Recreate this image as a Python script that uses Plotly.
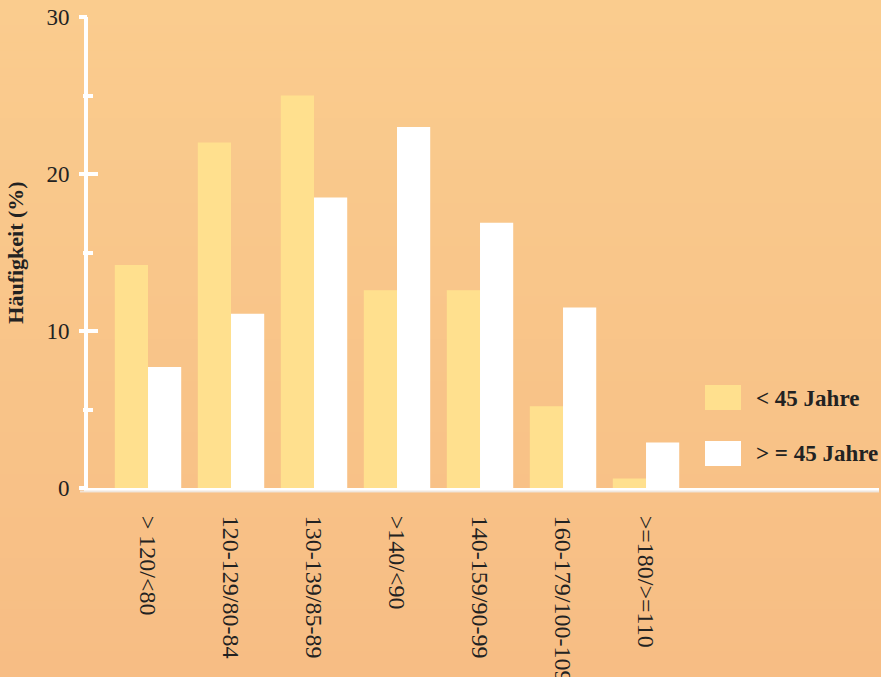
import plotly.graph_objects as go

categories = ["> 120/<80", "120-129/80-84", "130-139/85-89", ">140/<90",
              "140-159/90-99", "160-179/100-109", ">=180/>=110"]
under_45 = [14.2, 22.0, 25.0, 12.6, 12.6, 5.2, 0.6]
over_45 = [7.7, 11.1, 18.5, 23.0, 16.9, 11.5, 2.9]
series_names = ["< 45 Jahre", "> = 45 Jahre"]
y_ticks = [0, 10, 20, 30]

W, H = 881, 677
L, R, T, B = 88, 2, 17, 189
PW, PH = W - L - R, H - T - B

YELLOW = "#FFE08E"
WHITE = "#FFFFFF"
SERIF = "Liberation Serif, Times New Roman, serif"
TXT = "#222222"

def px(xp):
    return (xp - L) / PW

def py(yp):
    return (T + PH - yp) / PH

fig = go.Figure()
fig.add_trace(go.Bar(x=categories, y=under_45, name=series_names[0],
                     marker=dict(color=YELLOW, line=dict(width=0))))
fig.add_trace(go.Bar(x=categories, y=over_45, name=series_names[1],
                     marker=dict(color=WHITE, line=dict(width=0))))
# helper (invisible) trace so the overlay axis with outside ticks is drawn
fig.add_trace(go.Scatter(x=categories, y=under_45, mode="none", yaxis="y2",
                         showlegend=False, hoverinfo="skip"))

# background gradient bands
shapes = []
n = 80
top = (250, 204, 142)
bot = (247, 189, 132)
y0p, y1p = py(H), py(0)
for i in range(n):
    t = i / (n - 1)
    c = tuple(round(bot[k] + (top[k] - bot[k]) * t) for k in range(3))
    ya = y0p + (y1p - y0p) * i / n
    yb = y0p + (y1p - y0p) * (i + 1) / n
    shapes.append(dict(type="rect", xref="paper", yref="paper",
                       x0=px(0), x1=px(W), y0=ya, y1=yb + 0.002,
                       fillcolor="rgb(%d,%d,%d)" % c, line=dict(width=0),
                       layer="below"))
# subtle shadow under x axis
shapes.append(dict(type="line", xref="paper", yref="paper",
                   x0=px(80), x1=px(879), y0=py(491.5), y1=py(491.5),
                   line=dict(color="rgba(238,228,218,0.9)", width=2),
                   layer="above"))
# legend swatches
shapes.append(dict(type="rect", xref="paper", yref="paper",
                   x0=px(705), x1=px(741), y0=py(410), y1=py(385),
                   fillcolor=YELLOW, line=dict(width=0)))
shapes.append(dict(type="rect", xref="paper", yref="paper",
                   x0=px(705), x1=px(741), y0=py(466), y1=py(441),
                   fillcolor=WHITE, line=dict(width=0)))

annotations = [
    dict(text="<b>%s</b>" % series_names[0], xref="paper", yref="paper",
         x=px(754), y=py(398), xanchor="left", yanchor="middle",
         showarrow=False, font=dict(family=SERIF, size=23, color=TXT)),
    dict(text="<b>%s</b>" % series_names[1], xref="paper", yref="paper",
         x=px(754), y=py(453), xanchor="left", yanchor="middle",
         showarrow=False, font=dict(family=SERIF, size=23, color=TXT)),
]

fig.update_layout(
    width=W, height=H,
    margin=dict(l=L, r=R, t=T, b=B, pad=0, autoexpand=False),
    paper_bgcolor="rgb(248,196,137)",
    plot_bgcolor="rgba(0,0,0,0)",
    barmode="group", bargap=0.2, bargroupgap=0,
    showlegend=False,
    shapes=shapes, annotations=annotations,
    xaxis=dict(range=[-0.723, 8.807], showline=True, linecolor=WHITE,
               linewidth=4, ticks="", showgrid=False, zeroline=False,
               tickangle=90, ticklabelstandoff=19, automargin=False,
               tickfont=dict(family=SERIF, size=24, color=TXT)),
    yaxis=dict(range=[0, 30], tickvals=y_ticks, showline=True,
               linecolor=WHITE, linewidth=4, ticks="inside", ticklen=10,
               tickwidth=4, tickcolor=WHITE, showgrid=False, zeroline=False,
               minor=dict(ticks="inside", ticklen=5, tickwidth=4,
                          tickcolor=WHITE, dtick=5, showgrid=False),
               ticklabelstandoff=10, automargin=False,
               tickfont=dict(family=SERIF, size=23, color=TXT),
               title=dict(text="<b>Häufigkeit (%)</b>", standoff=18,
                          font=dict(family=SERIF, size=22, color=TXT))),
    yaxis2=dict(range=[0, 30], overlaying="y", side="left", anchor="x",
                tickvals=y_ticks, ticks="outside", ticklen=8, tickwidth=4,
                tickcolor=WHITE, showline=False, showgrid=False,
                zeroline=False, showticklabels=False,
                minor=dict(ticks="outside", ticklen=4, tickwidth=4,
                           tickcolor=WHITE, dtick=5, showgrid=False)),
)

fig.write_html("out.html")
